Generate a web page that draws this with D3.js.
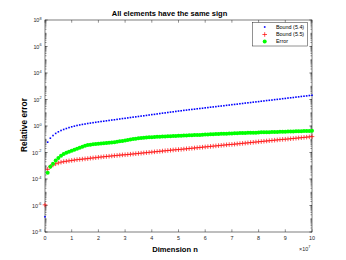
<!DOCTYPE html>
<html>
<head>
<meta charset="utf-8">
<script src="https://cdn.jsdelivr.net/npm/d3@7"></script>
<style>
  html, body { margin: 0; padding: 0; background: #fff; }
  svg { display: block; font-family: 'Liberation Sans', Arial, sans-serif; }
</style>
</head>
<body>
<svg id="chart"></svg>
<script>
// dimension n, in units of 1e6
const dimension = [
  0, 1, 2, 3, 4, 5, 6, 7, 8, 9, 10, 11, 12, 13, 14, 15, 16, 17, 18, 19, 20,
  21, 22, 23, 24, 25, 26, 27, 28, 29, 30, 31, 32, 33, 34, 35, 36, 37, 38, 39, 40,
  41, 42, 43, 44, 45, 46, 47, 48, 49, 50, 51, 52, 53, 54, 55, 56, 57, 58, 59, 60,
  61, 62, 63, 64, 65, 66, 67, 68, 69, 70, 71, 72, 73, 74, 75, 76, 77, 78, 79, 80,
  81, 82, 83, 84, 85, 86, 87, 88, 89, 90, 91, 92, 93, 94, 95, 96, 97, 98, 99, 100
]

// log10 of the relative error
const bound54 = [
  -6.85, -1.22, -0.92, -0.72, -0.56, -0.44, -0.34, -0.26, -0.19, -0.12, -0.06,
  -0.01, 0.04, 0.08, 0.12, 0.15, 0.19, 0.22, 0.25, 0.28, 0.31,
  0.34, 0.36, 0.39, 0.42, 0.45, 0.47, 0.50, 0.53, 0.56, 0.58,
  0.61, 0.64, 0.67, 0.69, 0.72, 0.75, 0.77, 0.80, 0.83, 0.86,
  0.88, 0.91, 0.94, 0.97, 0.99, 1.02, 1.05, 1.07, 1.10, 1.13,
  1.15, 1.18, 1.20, 1.23, 1.25, 1.27, 1.30, 1.32, 1.34, 1.37,
  1.39, 1.42, 1.44, 1.46, 1.49, 1.51, 1.53, 1.56, 1.58, 1.61,
  1.63, 1.65, 1.68, 1.70, 1.73, 1.75, 1.77, 1.80, 1.82, 1.84,
  1.87, 1.89, 1.92, 1.94, 1.96, 1.99, 2.01, 2.03, 2.06, 2.08,
  2.11, 2.13, 2.15, 2.18, 2.20, 2.23, 2.25, 2.27, 2.30, 2.32
]

const bound55 = [
  -5.95, -3.27, -3.05, -2.94, -2.85, -2.79, -2.73, -2.69, -2.66, -2.63, -2.60,
  -2.57, -2.54, -2.52, -2.50, -2.48, -2.46, -2.43, -2.41, -2.39, -2.36,
  -2.34, -2.32, -2.30, -2.28, -2.26, -2.24, -2.22, -2.20, -2.18, -2.17,
  -2.15, -2.13, -2.11, -2.09, -2.07, -2.05, -2.03, -2.01, -1.99, -1.97,
  -1.95, -1.93, -1.91, -1.89, -1.87, -1.85, -1.83, -1.81, -1.79, -1.78,
  -1.76, -1.74, -1.72, -1.70, -1.68, -1.66, -1.64, -1.62, -1.60, -1.58,
  -1.56, -1.54, -1.52, -1.50, -1.48, -1.46, -1.44, -1.42, -1.40, -1.39,
  -1.37, -1.35, -1.33, -1.31, -1.29, -1.27, -1.25, -1.23, -1.21, -1.19,
  -1.17, -1.15, -1.13, -1.11, -1.09, -1.07, -1.05, -1.03, -1.01, -1.00,
  -0.98, -0.96, -0.94, -0.92, -0.90, -0.88, -0.86, -0.84, -0.82, -0.80
]

const errorVals = [
  null, -3.52, -3.07, -2.85, -2.60, -2.42, -2.25, -2.12, -2.02, -1.94, -1.86,
  -1.79, -1.72, -1.64, -1.56, -1.49, -1.44, -1.41, -1.38, -1.36, -1.34,
  -1.32, -1.30, -1.28, -1.26, -1.24, -1.22, -1.19, -1.16, -1.13, -1.09,
  -1.05, -1.02, -0.99, -0.96, -0.93, -0.91, -0.89, -0.87, -0.85, -0.84,
  -0.83, -0.82, -0.81, -0.80, -0.79, -0.78, -0.77, -0.76, -0.75, -0.74,
  -0.73, -0.72, -0.71, -0.70, -0.69, -0.68, -0.67, -0.67, -0.66, -0.65,
  -0.64, -0.63, -0.62, -0.61, -0.60, -0.59, -0.58, -0.58, -0.57, -0.56,
  -0.55, -0.54, -0.53, -0.53, -0.52, -0.51, -0.51, -0.50, -0.50, -0.49,
  -0.48, -0.48, -0.47, -0.47, -0.46, -0.45, -0.45, -0.44, -0.43, -0.43,
  -0.42, -0.41, -0.41, -0.40, -0.39, -0.39, -0.38, -0.37, -0.37, -0.36
]

const xTicks = [0, 1, 2, 3, 4, 5, 6, 7, 8, 9, 10]
const yTickExps = [-8, -6, -4, -2, 0, 2, 4, 6, 8]
const seriesNames = ['Bound (5.4)', 'Bound (5.5)', 'Error']

const width = 346
const height = 260
const margin = { top: 20, right: 34, bottom: 28, left: 45 }
const axisColor = '#262626'

const svg = d3.select('#chart')
  .attr('width', width)
  .attr('height', height)

svg.append('rect')
  .attr('width', width)
  .attr('height', height)
  .attr('fill', '#fff')

const x = d3.scaleLinear()
  .domain([0, 100])
  .range([margin.left, width - margin.right])

const y = d3.scaleLog()
  .domain([1e-8, 1e8])
  .range([height - margin.bottom, margin.top])

const x0 = margin.left, x1 = width - margin.right
const y0 = height - margin.bottom, y1 = margin.top

// minor log ticks on left and right
const minor = []
for (let e = -8; e < 8; e++) {
  for (let j = 1; j <= 9; j++) minor.push(j * Math.pow(10, e))
}
const ticksG = svg.append('g').attr('stroke', axisColor).attr('stroke-width', 0.5)
minor.forEach(v => {
  const yy = y(v)
  ticksG.append('line').attr('x1', x0).attr('x2', x0 + 1.5).attr('y1', yy).attr('y2', yy)
  ticksG.append('line').attr('x1', x1).attr('x2', x1 - 1.5).attr('y1', yy).attr('y2', yy)
})
yTickExps.forEach(e => {
  const yy = y(Math.pow(10, e))
  ticksG.append('line').attr('x1', x0).attr('x2', x0 + 2.7).attr('y1', yy).attr('y2', yy)
  ticksG.append('line').attr('x1', x1).attr('x2', x1 - 2.7).attr('y1', yy).attr('y2', yy)
})
xTicks.forEach(t => {
  const xx = x(t * 10)
  ticksG.append('line').attr('x1', xx).attr('x2', xx).attr('y1', y0).attr('y2', y0 - 2.7)
  ticksG.append('line').attr('x1', xx).attr('x2', xx).attr('y1', y1).attr('y2', y1 + 2.7)
})

// box
svg.append('rect')
  .attr('x', x0).attr('y', y1)
  .attr('width', x1 - x0).attr('height', y0 - y1)
  .attr('fill', 'none')
  .attr('stroke', axisColor)
  .attr('stroke-width', 0.6)

// y tick labels 10^k
yTickExps.forEach(e => {
  const t = svg.append('text')
    .attr('x', x0 - 3.5)
    .attr('y', y(Math.pow(10, e)) + 2)
    .attr('text-anchor', 'end')
    .attr('font-size', 5.4)
    .attr('fill', axisColor)
  t.append('tspan').text('10')
  t.append('tspan').attr('dy', -2.2).attr('font-size', 3.8).text(e)
})

// x tick labels
svg.append('g')
  .selectAll('text')
  .data(xTicks)
  .join('text')
  .attr('x', d => x(d * 10))
  .attr('y', y0 + 8)
  .attr('text-anchor', 'middle')
  .attr('font-size', 5.4)
  .attr('fill', axisColor)
  .text(d => d)

const mult = svg.append('text')
  .attr('x', x1 - 13)
  .attr('y', y0 + 18.5)
  .attr('font-size', 5.4)
  .attr('fill', axisColor)
mult.append('tspan').text('\u00d710')
mult.append('tspan').attr('dy', -2.2).attr('font-size', 3.8).text('7')

// series
const pts = (vals) => dimension
  .map((d, i) => ({ n: d, v: vals[i] }))
  .filter(p => p.v !== null)
  .map(p => ({ cx: x(p.n), cy: y(Math.pow(10, p.v)) }))

const blueG = svg.append('g')
blueG.selectAll('rect')
  .data(pts(bound54))
  .join('rect')
  .attr('x', d => d.cx - 0.8)
  .attr('y', d => d.cy - 0.8)
  .attr('width', 1.6)
  .attr('height', 1.6)
  .attr('fill', '#0000ff')

const redG = svg.append('g').attr('stroke', '#ff0000').attr('stroke-width', 0.7)
pts(bound55).forEach(d => {
  redG.append('line').attr('x1', d.cx - 2.3).attr('x2', d.cx + 2.3).attr('y1', d.cy).attr('y2', d.cy)
  redG.append('line').attr('x1', d.cx).attr('x2', d.cx).attr('y1', d.cy - 2.3).attr('y2', d.cy + 2.3)
})

svg.append('g')
  .selectAll('circle')
  .data(pts(errorVals))
  .join('circle')
  .attr('cx', d => d.cx)
  .attr('cy', d => d.cy)
  .attr('r', 2)
  .attr('fill', '#00ff00')

// legend
const lg = svg.append('g')
lg.append('rect')
  .attr('x', 252.5).attr('y', 22.5)
  .attr('width', 55).attr('height', 23.5)
  .attr('fill', '#fff')
  .attr('stroke', axisColor)
  .attr('stroke-width', 0.5)
const rowY = [27, 34.5, 41.5]
seriesNames.forEach((name, i) => {
  lg.append('text')
    .attr('x', 276)
    .attr('y', rowY[i] + 1.9)
    .attr('font-size', 5.4)
    .attr('fill', '#000')
    .text(name)
})
lg.append('rect').attr('x', 264.7 - 0.8).attr('y', rowY[0] - 0.8).attr('width', 1.6).attr('height', 1.6).attr('fill', '#0000ff')
lg.append('line').attr('x1', 262.4).attr('x2', 267).attr('y1', rowY[1]).attr('y2', rowY[1]).attr('stroke', '#ff0000').attr('stroke-width', 0.7)
lg.append('line').attr('x1', 264.7).attr('x2', 264.7).attr('y1', rowY[1] - 2.3).attr('y2', rowY[1] + 2.3).attr('stroke', '#ff0000').attr('stroke-width', 0.7)
lg.append('circle').attr('cx', 264.7).attr('cy', rowY[2]).attr('r', 2).attr('fill', '#00ff00')

// labels
svg.append('text')
  .attr('x', 169.5)
  .attr('y', 15.5)
  .attr('text-anchor', 'middle')
  .attr('font-size', 7.5)
  .attr('font-weight', 'bold')
  .attr('fill', '#000')
  .text('All elements have the same sign')

svg.append('text')
  .attr('x', 175)
  .attr('y', 252)
  .attr('text-anchor', 'middle')
  .attr('font-size', 7.6)
  .attr('font-weight', 'bold')
  .attr('fill', '#000')
  .text('Dimension n')

svg.append('text')
  .attr('transform', `translate(26.5, 125) rotate(-90)`)
  .attr('text-anchor', 'middle')
  .attr('font-size', 8.4)
  .attr('font-weight', 'bold')
  .attr('fill', '#000')
  .text('Relative error')
</script>
</body>
</html>
